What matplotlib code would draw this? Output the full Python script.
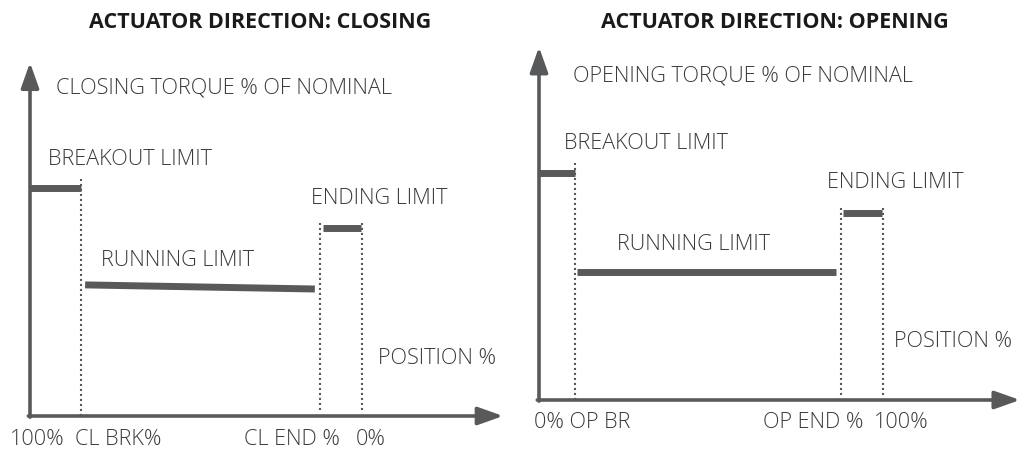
import matplotlib.pyplot as plt

# diagram units: position (x) and torque % of nominal (y)
cl_brk_pos = 15.4
cl_end_pos = 87.3
cl_zero_pos = 100.0
cl_breakout = [0.0, 15.4]
cl_breakout_torque = [100.0, 100.0]
cl_running = [16.6, 85.8]
cl_running_torque = [57.5, 55.7]
cl_ending = [88.3, 99.7]
cl_ending_torque = [82.5, 82.5]

op_brk_pos = 10.5
op_end_pos = 87.8
op_full_pos = 100.0
op_breakout = [0.0, 10.5]
op_breakout_torque = [100.0, 100.0]
op_running = [11.0, 86.3]
op_running_torque = [56.4, 56.4]
op_ending = [88.4, 99.7]
op_ending_torque = [82.4, 82.4]

cl_ticks = ['100%', 'CL BRK%', 'CL END %', '0%']
op_ticks = ['0% OP BR', 'OP END %', '100%']

GRAY = '#58595b'
TXT = '#3a3a3a'
FONT = 'Open Sans'
FS = 15.6

W, H = 1021, 451
fig = plt.figure(figsize=(W / 100, H / 100), dpi=100)


def add_panel(x0_px, y0_px, sx, sy, xlim, ylim):
    # place an axes so that data (0,0) sits at pixel (x0_px, y0_px)
    left = x0_px + xlim[0] * sx
    bottom = y0_px - ylim[0] * sy
    w = (xlim[1] - xlim[0]) * sx
    h = (ylim[1] - ylim[0]) * sy
    ax = fig.add_axes([left / W, (H - bottom) / H, w / W, h / H])
    ax.set_xlim(*xlim)
    ax.set_ylim(*ylim)
    ax.set_axis_off()
    return ax


def draw_axes(ax, xtip, ytip):
    arrow = dict(arrowstyle='-|>,head_length=0.45,head_width=0.16', lw=2.6,
                 color=GRAY, mutation_scale=34, shrinkA=0, shrinkB=0)
    ax.annotate('', xy=(xtip, 0), xytext=(-0.5, 0), arrowprops=arrow)
    ax.annotate('', xy=(0, ytip), xytext=(0, -0.5), arrowprops=arrow)


def dotted(ax, x, top, bottom):
    ax.plot([x, x], [bottom, top], color=GRAY, lw=1.5, linestyle=(0, (1, 1.4)))


def bar(ax, xs, ys):
    ax.plot(xs, ys, color=GRAY, lw=5, solid_capstyle='butt')


def label(ax, x, y, s, ha='left'):
    ax.text(x, y, s, ha=ha, va='center', fontsize=FS, color=TXT,
            family=FONT, fontweight='light')


# ---- closing
ax1 = add_panel(30, 416, 3.32, 2.28, (-8, 145), (-15, 165))
draw_axes(ax1, 142.5, 155)
dotted(ax1, cl_brk_pos, 104, 0)
dotted(ax1, cl_end_pos, 84.6, 2.6)
dotted(ax1, cl_zero_pos, 84.6, 2.6)
bar(ax1, cl_breakout, cl_breakout_torque)
bar(ax1, cl_running, cl_running_torque)
bar(ax1, cl_ending, cl_ending_torque)
label(ax1, 7.8, 143.9, 'CLOSING TORQUE % OF NOMINAL')
label(ax1, 5.4, 112.7, 'BREAKOUT LIMIT')
label(ax1, 84.6, 95.2, 'ENDING LIMIT')
label(ax1, 21.4, 68.4, 'RUNNING LIMIT')
label(ax1, 104.8, 25, 'POSITION %')
for xp, t in zip([2.3, 26.5, 78.8, 102.6], cl_ticks):
    label(ax1, xp, -10.5, t, ha='center')

# ---- opening
ax2 = add_panel(539, 400, 3.44, 2.27, (-8, 140), (-15, 165))
draw_axes(ax2, 139.8, 155.5)
dotted(ax2, op_brk_pos, 104.4, 0)
dotted(ax2, op_end_pos, 84.6, 2.2)
dotted(ax2, op_full_pos, 84.6, 2.2)
bar(ax2, op_breakout, op_breakout_torque)
bar(ax2, op_running, op_running_torque)
bar(ax2, op_ending, op_ending_torque)
label(ax2, 9.9, 142.7, 'OPENING TORQUE % OF NOMINAL')
label(ax2, 7.3, 112.8, 'BREAKOUT LIMIT')
label(ax2, 83.7, 95.6, 'ENDING LIMIT')
label(ax2, 22.7, 68.7, 'RUNNING LIMIT')
label(ax2, 103.2, 25.6, 'POSITION %')
for xp, t in zip([12.6, 79.7, 105.4], op_ticks):
    label(ax2, xp, -10.1, t, ha='center')

fig.text(260 / W, 1 - 23 / H, 'ACTUATOR DIRECTION: CLOSING', ha='center', va='center',
         fontsize=15.5, fontweight='bold', family=FONT, color='#1a1a1a')
fig.text(775 / W, 1 - 23 / H, 'ACTUATOR DIRECTION: OPENING', ha='center', va='center',
         fontsize=15.5, fontweight='bold', family=FONT, color='#1a1a1a')

fig.savefig('out.png', dpi=100)
